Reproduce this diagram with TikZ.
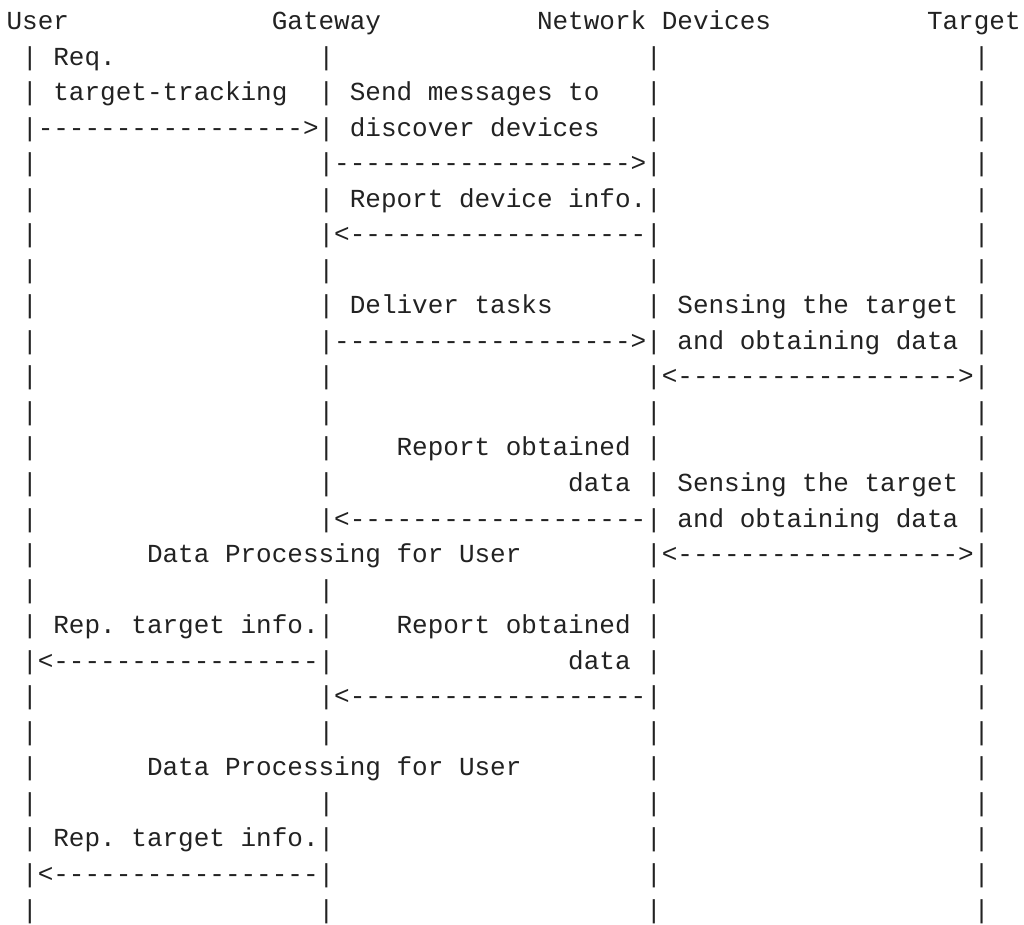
\documentclass[tikz,border=0pt]{standalone}
\usepackage{fontspec}
\setmonofont{Liberation Mono}
\definecolor{ink}{HTML}{222222}
\tikzset{txt/.style={anchor=base west, inner sep=0pt, outer sep=0pt, text=ink,
  font=\ttfamily\fontsize{26pt}{30pt}\selectfont}}
\newcommand\asc[3]{\node[txt] (n#1c#2) at ({#2+0.423},{#1-0.17}) {#3};}
\newcommand\pipes[2]{\foreach \cc in {#2} {\asc{#1}{\cc}{|}}}
\begin{document}
\begin{tikzpicture}[x=15.6pt,y=-35.54pt]
\useasboundingbox[fill=white] (0,0) rectangle (65.641,26.027);
% header
\asc{1}{0}{User}\asc{1}{17}{Gateway}\asc{1}{34}{Network Devices}\asc{1}{59}{Target}
% row 2
\pipes{2}{1,20,41,62}\asc{2}{3}{Req.}
% row 3
\pipes{3}{1,20,41,62}\asc{3}{3}{target-tracking}\asc{3}{22}{Send messages to}
% row 4
\asc{4}{1}{|----------------->|}\asc{4}{22}{discover devices}\pipes{4}{41,62}
% row 5
\pipes{5}{1,62}\asc{5}{20}{|------------------->|}
% row 6
\pipes{6}{1,20,62}\asc{6}{22}{Report device info.|}
% row 7
\pipes{7}{1,62}\asc{7}{20}{|<-------------------|}
% row 8
\pipes{8}{1,20,41,62}
% row 9
\pipes{9}{1,20,41,62}\asc{9}{22}{Deliver tasks}\asc{9}{43}{Sensing the target}
% row 10
\pipes{10}{1,62}\asc{10}{20}{|------------------->|}\asc{10}{43}{and obtaining data}
% row 11
\pipes{11}{1,20}\asc{11}{41}{|<------------------>|}
% row 12
\pipes{12}{1,20,41,62}
% row 13
\pipes{13}{1,20,41,62}\asc{13}{25}{Report obtained}
% row 14
\pipes{14}{1,20,41,62}\asc{14}{36}{data}\asc{14}{43}{Sensing the target}
% row 15
\pipes{15}{1,62}\asc{15}{20}{|<-------------------|}\asc{15}{43}{and obtaining data}
% row 16
\pipes{16}{1}\asc{16}{9}{Data Processing for User}\asc{16}{41}{|<------------------>|}
% row 17
\pipes{17}{1,20,41,62}
% row 18
\pipes{18}{1,41,62}\asc{18}{3}{Rep. target info.|}\asc{18}{25}{Report obtained}
% row 19
\asc{19}{1}{|<-----------------|}\asc{19}{36}{data}\pipes{19}{41,62}
% row 20
\pipes{20}{1,62}\asc{20}{20}{|<-------------------|}
% row 21
\pipes{21}{1,20,41,62}
% row 22
\pipes{22}{1,41,62}\asc{22}{9}{Data Processing for User}
% row 23
\pipes{23}{1,20,41,62}
% row 24
\pipes{24}{1,41,62}\asc{24}{3}{Rep. target info.|}
% row 25
\asc{25}{1}{|<-----------------|}\pipes{25}{41,62}
% row 26
\pipes{26}{1,20,41,62}
\end{tikzpicture}
\end{document}
